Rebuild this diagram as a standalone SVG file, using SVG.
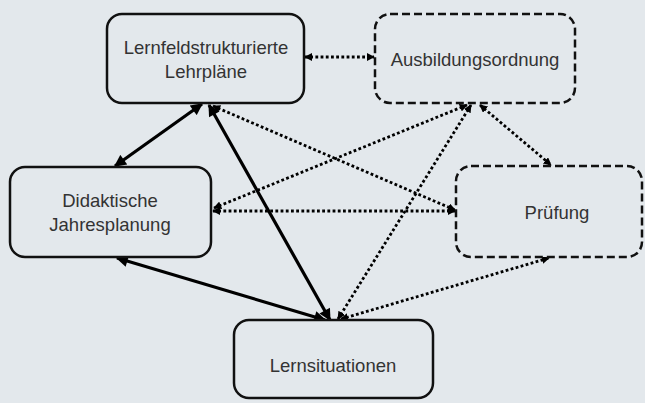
<svg xmlns="http://www.w3.org/2000/svg" width="645" height="403" viewBox="0 0 645 403">
<style>
.bg{fill:#e3e8ec}
.box{fill:#e3e8ec;stroke:#111;stroke-width:2.5}
.dash{stroke-dasharray:8 4}
.lbl{font-family:"Liberation Sans",Arial,sans-serif;font-size:18.5px;fill:#333;text-anchor:middle}
.solid{stroke:#000;stroke-width:3.2;fill:none;marker-start:url(#ah);marker-end:url(#ah)}
.dot{stroke:#000;stroke-width:2.8;stroke-dasharray:2.8 2.4;fill:none;marker-start:url(#ahs);marker-end:url(#ahs)}
</style>
<defs>
<marker id="ah" viewBox="0 0 10 10" refX="9" refY="5" markerWidth="14" markerHeight="12" markerUnits="userSpaceOnUse" orient="auto-start-reverse"><path d="M0,0 L10,5 L0,10 z" fill="#000" stroke="none"/></marker>
<marker id="ahs" viewBox="0 0 10 10" refX="9" refY="5" markerWidth="8" markerHeight="8" markerUnits="userSpaceOnUse" orient="auto-start-reverse"><path d="M0,0 L10,5 L0,10 z" fill="#000" stroke="none"/></marker>
</defs>
<rect class="bg" x="0" y="0" width="645" height="403"/>
<g id="connectors">
<line class="solid" x1="115" y1="166" x2="202" y2="104"/>
<line class="solid" x1="209" y1="105" x2="330" y2="320"/>
<line class="solid" x1="117" y1="258" x2="325" y2="320"/>
<line class="dot" x1="305" y1="57" x2="374" y2="57"/>
<line class="dot" x1="213" y1="106" x2="455" y2="210"/>
<line class="dot" x1="213" y1="211" x2="455" y2="211"/>
<line class="dot" x1="467" y1="105" x2="214" y2="208"/>
<line class="dot" x1="471" y1="105" x2="338" y2="319"/>
<line class="dot" x1="480" y1="105" x2="551" y2="165"/>
<line class="dot" x1="341" y1="319" x2="549" y2="258"/>
</g>
<g id="lehrplaene">
<rect class="box" x="107" y="14" width="197" height="89" rx="15"/>
<text class="lbl" x="206" y="54">Lernfeldstrukturierte</text>
<text class="lbl" x="206" y="78">Lehrpläne</text>
</g>
<g id="ausbildungsordnung">
<rect class="box dash" x="375" y="14" width="200" height="89" rx="15"/>
<text class="lbl" x="475" y="66">Ausbildungsordnung</text>
</g>
<g id="jahresplanung">
<rect class="box" x="10" y="167" width="201" height="90" rx="15"/>
<text class="lbl" x="110" y="207">Didaktische</text>
<text class="lbl" x="110" y="231">Jahresplanung</text>
</g>
<g id="pruefung">
<rect class="box dash" x="456" y="166" width="186" height="91" rx="15"/>
<text class="lbl" x="557" y="219">Prüfung</text>
</g>
<g id="lernsituationen">
<rect class="box" x="234" y="320" width="199" height="78" rx="15"/>
<text class="lbl" x="333" y="372">Lernsituationen</text>
</g>
</svg>
